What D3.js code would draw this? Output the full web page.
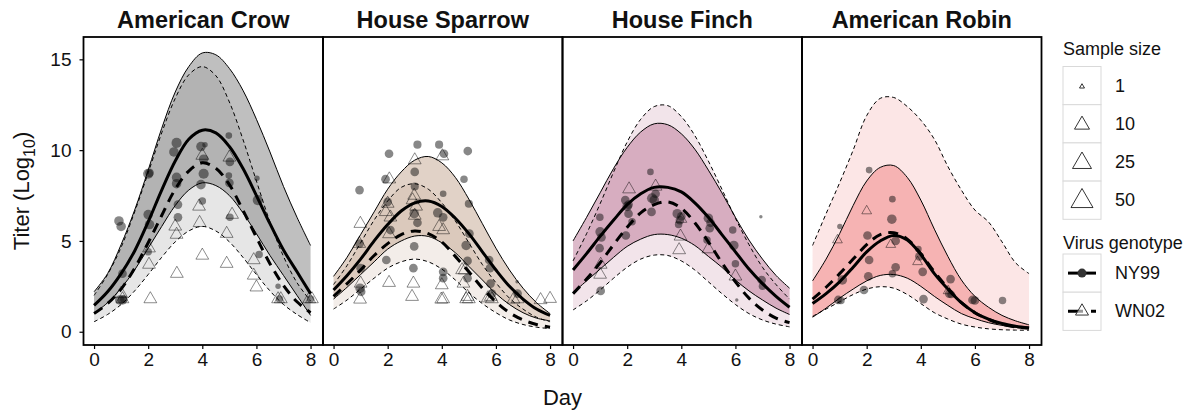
<!DOCTYPE html>
<html>
<head>
<meta charset="utf-8">
<script src="https://cdn.jsdelivr.net/npm/d3@7"></script>
<style>
  body { margin: 0; background: #fff; }
  svg { display: block; }
  text { font-family: "Liberation Sans", Arial, Helvetica, sans-serif; fill: #111; }
</style>
</head>
<body>
<svg id="chart" width="1192" height="412"></svg>
<script>
// ---- Grid of days at which the fitted curves are tabulated ----
const days = [0, 0.5, 1, 1.5, 2, 2.5, 3, 3.5, 4, 4.5, 5, 5.5, 6, 6.5, 7, 7.5, 8];

const species = ["American Crow", "House Sparrow", "House Finch", "American Robin"];
const speciesColors = ["#808080", "#c3a690", "#bc7696", "#f08080"];
const xTicks = [0, 2, 4, 6, 8];
const yTicks = [0, 5, 10, 15];
const sampleSizes = [1, 10, 25, 50];
const genotypes = ["NY99", "WN02"];

// ---- American Crow ----
const crowNY99Mean  = [1.45, 2.2, 3.2, 4.45, 6.05, 7.8, 9.4, 10.6, 11.1, 10.95, 10.2, 9.0, 7.5, 5.95, 4.5, 3.3, 2.1];
const crowNY99Lower = [1.0, 1.6, 2.4, 3.4, 4.6, 5.8, 6.95, 7.8, 8.2, 8.05, 7.5, 6.55, 5.4, 4.2, 3.1, 2.0, 0.9];
const crowNY99Upper = [2.2, 3.2, 4.8, 6.7, 8.9, 11.2, 13.2, 14.6, 15.35, 15.25, 14.5, 13.3, 11.7, 9.9, 8.0, 6.3, 4.75];
const crowWN02Mean  = [1.0, 1.55, 2.35, 3.5, 4.9, 6.4, 7.85, 8.85, 9.3, 9.0, 8.1, 6.7, 5.2, 3.75, 2.55, 1.65, 1.05];
const crowWN02Lower = [0.55, 0.95, 1.5, 2.25, 3.15, 4.1, 4.95, 5.55, 5.8, 5.55, 4.95, 4.1, 3.15, 2.25, 1.5, 0.95, 0.5];
const crowWN02Upper = [2.0, 3.15, 4.65, 6.6, 8.75, 10.95, 12.85, 14.15, 14.6, 14.1, 12.65, 10.6, 8.3, 6.05, 4.15, 2.7, 1.7];

// ---- House Sparrow ----
const sparrowNY99Mean  = [2.3, 3.1, 4.0, 5.0, 5.9, 6.65, 7.1, 7.2, 6.9, 6.25, 5.4, 4.4, 3.4, 2.5, 1.8, 1.25, 0.9];
const sparrowNY99Lower = [1.8, 2.45, 3.15, 3.85, 4.55, 5.0, 5.27, 5.25, 4.9, 4.35, 3.6, 2.85, 2.1, 1.5, 1.05, 0.75, 0.6];
const sparrowNY99Upper = [3.05, 4.1, 5.35, 6.6, 7.85, 8.8, 9.45, 9.65, 9.3, 8.5, 7.3, 5.95, 4.6, 3.4, 2.4, 1.6, 1.0];
const sparrowWN02Mean  = [1.95, 2.65, 3.4, 4.2, 4.85, 5.35, 5.55, 5.4, 4.95, 4.15, 3.3, 2.4, 1.65, 1.05, 0.65, 0.4, 0.25];
const sparrowWN02Lower = [1.25, 1.75, 2.35, 2.95, 3.5, 3.85, 4.0, 3.85, 3.45, 2.85, 2.15, 1.55, 1.05, 0.65, 0.4, 0.25, 0.17];
const sparrowWN02Upper = [2.6, 3.65, 4.9, 6.15, 7.2, 7.95, 8.15, 7.85, 7.1, 6.1, 4.9, 3.7, 2.7, 1.85, 1.25, 0.8, 0.55];

// ---- House Finch ----
const finchNY99Mean  = [3.4, 4.3, 5.25, 6.15, 7.0, 7.6, 7.95, 7.95, 7.7, 7.1, 6.3, 5.35, 4.4, 3.45, 2.65, 1.95, 1.35];
const finchNY99Lower = [2.15, 2.8, 3.45, 4.1, 4.7, 5.1, 5.35, 5.35, 5.15, 4.75, 4.15, 3.55, 2.85, 2.25, 1.75, 1.3, 0.95];
const finchNY99Upper = [5.0, 6.3, 7.65, 9.0, 10.15, 11.0, 11.45, 11.4, 10.9, 10.05, 8.9, 7.65, 6.3, 5.05, 4.0, 3.1, 2.4];
const finchWN02Mean  = [2.1, 2.9, 3.8, 4.8, 5.75, 6.55, 7.0, 7.15, 6.8, 6.0, 4.95, 3.8, 2.75, 1.85, 1.2, 0.75, 0.5];
const finchWN02Lower = [1.2, 1.7, 2.3, 2.95, 3.55, 4.0, 4.22, 4.2, 3.9, 3.4, 2.75, 2.1, 1.5, 1.0, 0.65, 0.42, 0.27];
const finchWN02Upper = [3.9, 5.4, 7.05, 8.8, 10.45, 11.7, 12.4, 12.45, 11.85, 10.8, 9.4, 7.85, 6.25, 4.8, 3.55, 2.6, 1.8];

// ---- American Robin ----
const robinNY99Mean  = [1.55, 2.1, 2.75, 3.55, 4.4, 5.0, 5.3, 5.05, 4.25, 3.2, 2.35, 1.6, 1.05, 0.7, 0.45, 0.3, 0.2];
const robinNY99Lower = [0.8, 1.3, 1.85, 2.35, 2.8, 3.1, 3.15, 2.95, 2.5, 1.95, 1.45, 1.0, 0.72, 0.5, 0.35, 0.24, 0.18];
const robinNY99Upper = [2.8, 4.0, 5.4, 6.95, 8.3, 9.05, 9.15, 8.5, 7.25, 5.65, 4.15, 2.85, 1.95, 1.35, 0.9, 0.6, 0.38];
const robinWN02Mean  = [1.8, 2.45, 3.2, 4.0, 4.8, 5.35, 5.45, 5.1, 4.3, 3.3, 2.4, 1.6, 1.05, 0.68, 0.42, 0.27, 0.2];
const robinWN02Lower = [0.85, 1.25, 1.65, 2.05, 2.35, 2.48, 2.4, 2.05, 1.55, 1.05, 0.7, 0.42, 0.26, 0.16, 0.11, 0.09, 0.08];
const robinWN02Upper = [4.75, 6.5, 8.2, 10.0, 11.9, 12.85, 12.9, 12.4, 11.65, 10.6, 9.1, 7.8, 6.7, 6.05, 4.95, 3.8, 3.2];

// ---- Observed titers: [day, titer, sample size] ----
const crowNY99Points = [
  [0.92, 6.1, 8], [1.0, 5.8, 8], [1.05, 3.2, 6], [0.95, 1.75, 8], [1.05, 1.75, 8], [1.1, 1.8, 4],
  [2.0, 8.7, 10], [2.05, 8.75, 6], [2.0, 6.45, 8], [2.05, 5.9, 8], [2.0, 4.4, 4],
  [3.05, 10.4, 10], [2.95, 9.9, 8], [3.05, 8.5, 8], [3.05, 8.15, 8], [3.1, 7.0, 6], [3.1, 6.3, 6],
  [3.95, 10.2, 8], [4.1, 10.3, 2], [4.05, 9.5, 8], [4.05, 8.7, 10], [3.95, 8.1, 8], [4.0, 7.2, 4],
  [4.98, 10.8, 3], [5.02, 9.35, 6], [4.98, 8.6, 3], [5.0, 8.2, 6], [5.02, 6.3, 4],
  [6.02, 8.45, 2], [6.05, 7.25, 10], [6.1, 4.25, 4], [6.8, 2.5, 2], [6.85, 1.8, 4], [8.0, 1.8, 4]
];
const crowWN02Points = [
  [1.0, 2.1, 6], [1.05, 1.8, 6], [2.03, 4.6, 6], [2.03, 3.7, 6], [2.08, 1.8, 6],
  [3.0, 5.8, 6], [3.05, 5.35, 6], [3.06, 3.2, 6], [4.0, 9.7, 6], [3.88, 6.9, 6], [3.9, 6.0, 6], [4.0, 4.2, 6],
  [5.0, 9.6, 6], [5.1, 6.45, 6], [4.9, 5.4, 6], [4.9, 3.75, 6], [5.9, 3.95, 6], [5.9, 3.1, 6], [6.0, 2.45, 6],
  [6.8, 1.8, 6], [6.9, 1.8, 6], [7.95, 1.8, 6], [8.05, 1.8, 6]
];
const sparrowNY99Points = [
  [0.96, 7.8, 6], [0.96, 4.85, 6], [1.0, 3.5, 6], [0.98, 2.4, 8], [1.02, 2.2, 6],
  [2.05, 9.8, 6], [1.92, 8.4, 6], [2.0, 7.15, 6], [2.1, 5.6, 6], [1.95, 3.95, 6],
  [3.1, 10.3, 5], [3.0, 8.8, 6], [3.0, 8.0, 5], [2.98, 6.5, 8], [3.1, 6.0, 6], [2.98, 4.7, 6], [2.95, 3.5, 6],
  [3.9, 10.3, 5], [4.08, 9.8, 6], [4.05, 7.6, 3], [3.85, 6.55, 8], [4.05, 6.3, 6], [4.05, 3.3, 6], [4.05, 2.95, 6],
  [4.96, 9.95, 6], [4.82, 8.4, 4], [5.0, 7.05, 5], [5.02, 5.4, 6], [4.9, 4.75, 8], [4.95, 3.9, 6], [4.95, 2.95, 6],
  [5.75, 3.95, 6], [5.78, 3.5, 6], [5.8, 2.65, 6], [5.85, 2.1, 6],
  [6.78, 2.75, 1], [6.8, 2.1, 6]
];
const sparrowWN02Points = [
  [0.99, 5.95, 6], [0.95, 4.85, 6], [1.0, 2.66, 6], [0.98, 1.78, 6],
  [2.06, 8.4, 6], [1.93, 6.6, 6], [2.0, 7.06, 6], [2.1, 6.3, 6], [2.05, 5.38, 6], [2.05, 2.7, 6],
  [3.0, 9.45, 6], [2.92, 7.25, 6], [3.05, 6.9, 6], [2.98, 7.5, 6], [3.0, 6.4, 6], [2.95, 2.66, 6], [2.9, 1.93, 6],
  [4.02, 9.67, 6], [3.9, 5.78, 6], [4.05, 5.6, 6], [4.0, 2.57, 6], [3.98, 1.78, 6], [4.05, 1.8, 6],
  [4.85, 3.39, 6], [4.75, 3.4, 6], [4.8, 2.66, 6], [4.9, 1.8, 6], [5.0, 1.8, 6], [4.95, 1.93, 6],
  [5.7, 1.85, 6], [5.85, 1.8, 6], [5.81, 1.93, 6],
  [6.65, 1.78, 6], [6.8, 1.8, 6], [7.65, 1.75, 6], [8.0, 1.82, 6]
];
const finchNY99Points = [
  [0.99, 6.3, 4], [1.0, 5.5, 8], [1.05, 5.2, 6], [0.98, 4.6, 6], [1.02, 2.25, 6],
  [1.93, 7.25, 6], [2.0, 6.9, 8], [2.05, 7.0, 6], [2.18, 6.05, 4], [1.95, 5.3, 6], [2.05, 6.5, 6],
  [2.86, 8.8, 3], [2.92, 7.35, 10], [3.0, 7.25, 8], [2.9, 6.6, 6], [3.05, 7.6, 6],
  [3.85, 6.5, 8], [3.95, 6.15, 6], [4.0, 6.35, 6], [3.9, 5.9, 4],
  [5.0, 6.25, 8], [5.05, 5.7, 6], [4.95, 5.05, 4], [5.08, 6.0, 6],
  [5.9, 5.6, 4], [5.94, 4.75, 8], [6.0, 3.75, 4], [6.05, 1.75, 1],
  [6.97, 2.85, 6], [7.0, 2.5, 4], [6.94, 6.33, 1]
];
const finchWN02Points = [
  [2.07, 7.85, 6], [3.05, 8.0, 6], [3.97, 5.25, 6], [3.92, 4.5, 6], [5.0, 4.55, 6],
  [6.0, 3.05, 6], [1.02, 3.7, 6], [1.0, 3.15, 6], [4.0, 6.2, 4]
];
const robinNY99Points = [
  [1.01, 5.8, 2], [1.1, 2.85, 8], [0.95, 1.75, 6], [1.05, 1.72, 4],
  [2.09, 8.9, 3], [2.03, 5.3, 6], [2.09, 3.95, 6], [2.06, 3.05, 6], [1.9, 2.3, 6],
  [2.95, 7.3, 3], [2.93, 6.2, 8], [3.07, 5.0, 6], [3.07, 3.55, 6], [2.95, 3.2, 4],
  [3.91, 4.55, 3], [3.95, 4.15, 6], [4.07, 3.3, 6], [4.1, 1.8, 6],
  [5.1, 2.9, 6], [5.05, 2.1, 6], [5.12, 2.05, 4],
  [5.91, 1.75, 6], [6.0, 1.72, 6], [7.02, 1.72, 4]
];
const robinWN02Points = [
  [2.0, 6.65, 3], [0.92, 5.05, 3], [2.89, 4.8, 3], [3.88, 3.85, 3], [5.01, 2.25, 3]
];

// ---- Assemble panels ----
const panels = [
  { ny: [crowNY99Mean, crowNY99Lower, crowNY99Upper], wn: [crowWN02Mean, crowWN02Lower, crowWN02Upper], nyPts: crowNY99Points, wnPts: crowWN02Points },
  { ny: [sparrowNY99Mean, sparrowNY99Lower, sparrowNY99Upper], wn: [sparrowWN02Mean, sparrowWN02Lower, sparrowWN02Upper], nyPts: sparrowNY99Points, wnPts: sparrowWN02Points },
  { ny: [finchNY99Mean, finchNY99Lower, finchNY99Upper], wn: [finchWN02Mean, finchWN02Lower, finchWN02Upper], nyPts: finchNY99Points, wnPts: finchWN02Points },
  { ny: [robinNY99Mean, robinNY99Lower, robinNY99Upper], wn: [robinWN02Mean, robinWN02Lower, robinWN02Upper], nyPts: robinNY99Points, wnPts: robinWN02Points }
].map((p, i) => ({ ...p, name: species[i], color: speciesColors[i] }));

// ---- Layout ----
const svg = d3.select("#chart");
const panelTop = 37, panelBottom = 345;
const firstLeft = 83.5, panelW = 239.5;

const y = d3.scaleLinear().domain([-0.73, 16.23]).range([panelBottom, panelTop]);
// triangle side (px) for a given sample size; circles use a fraction of it
const sideScale = d3.scaleLog().domain([1, 50]).range([5, 22]);
const triArea = s => Math.sqrt(3) / 4 * s * s;

const tickFont = 19;

panels.forEach((p, i) => {
  const left = firstLeft + i * panelW;
  const x = d3.scaleLinear().domain([-0.39, 8.46]).range([left, left + panelW]);

  const clipId = "panel-clip-" + i;
  svg.append("clipPath").attr("id", clipId)
    .append("rect").attr("x", left).attr("y", panelTop).attr("width", panelW).attr("height", panelBottom - panelTop);

  const g = svg.append("g");
  const inner = g.append("g").attr("clip-path", `url(#${clipId})`);

  const band = (lo, hi) => d3.area()
    .x((d, k) => x(days[k])).y0((d, k) => y(lo[k])).y1((d, k) => y(hi[k]))
    .curve(d3.curveCatmullRom)(days);
  const line = arr => d3.line()
    .x((d, k) => x(days[k])).y(d => y(d))
    .curve(d3.curveCatmullRom)(arr);

  // uncertainty ribbons
  inner.append("path").attr("d", band(p.wn[1], p.wn[2])).attr("fill", p.color).attr("fill-opacity", 0.2);
  inner.append("path").attr("d", band(p.ny[1], p.ny[2])).attr("fill", p.color).attr("fill-opacity", 0.5);

  // observations
  inner.append("g").selectAll("circle").data(p.nyPts).join("circle")
    .attr("cx", d => x(d[0])).attr("cy", d => y(d[1]))
    .attr("r", d => sideScale(d[2]) * 0.34)
    .attr("fill", "#111").attr("fill-opacity", 0.5);
  inner.append("g").selectAll("path").data(p.wnPts).join("path")
    .attr("transform", d => `translate(${x(d[0])},${y(d[1])})`)
    .attr("d", d => d3.symbol(d3.symbolTriangle, triArea(sideScale(d[2])))())
    .attr("fill", "none").attr("stroke", "#000").attr("stroke-opacity", 0.45).attr("stroke-width", 1);

  // ribbon edges
  [p.wn[1], p.wn[2]].forEach(arr => inner.append("path").attr("d", line(arr))
    .attr("fill", "none").attr("stroke", "#000").attr("stroke-width", 1).attr("stroke-dasharray", "4,3"));
  [p.ny[1], p.ny[2]].forEach(arr => inner.append("path").attr("d", line(arr))
    .attr("fill", "none").attr("stroke", "#000").attr("stroke-width", 1));

  // fitted means
  inner.append("path").attr("d", line(p.ny[0]))
    .attr("fill", "none").attr("stroke", "#000").attr("stroke-width", 3);
  inner.append("path").attr("d", line(p.wn[0]))
    .attr("fill", "none").attr("stroke", "#000").attr("stroke-width", 3).attr("stroke-dasharray", "10,7");

  // panel frame
  g.append("rect").attr("x", left).attr("y", panelTop).attr("width", panelW).attr("height", panelBottom - panelTop)
    .attr("fill", "none").attr("stroke", "#000").attr("stroke-width", 1.8);

  // strip title
  g.append("text").attr("x", left + panelW / 2).attr("y", 27.5)
    .attr("text-anchor", "middle").attr("font-size", 23.5).attr("font-weight", "bold").text(p.name);

  // x axis
  const xa = g.append("g").attr("transform", `translate(0,${panelBottom})`)
    .call(d3.axisBottom(x).tickValues(xTicks).tickSize(4).tickPadding(4));
  xa.select(".domain").remove();
  xa.selectAll("line").attr("stroke", "#000").attr("stroke-width", 1.2);
  xa.selectAll("text").attr("font-size", tickFont).attr("font-family", "Liberation Sans, Arial, sans-serif").attr("fill", "#111");

  if (i === 0) {
    const ya = g.append("g").attr("transform", `translate(${left},0)`)
      .call(d3.axisLeft(y).tickValues(yTicks).tickSize(4).tickPadding(8));
    ya.select(".domain").remove();
    ya.selectAll("line").attr("stroke", "#000").attr("stroke-width", 1.2);
    ya.selectAll("text").attr("font-size", tickFont).attr("font-family", "Liberation Sans, Arial, sans-serif").attr("fill", "#111");
  }
});

// axis titles
svg.append("text").attr("x", firstLeft + 2 * panelW).attr("y", 405)
  .attr("text-anchor", "middle").attr("font-size", 22).text("Day");
const yt = svg.append("text").attr("transform", `translate(29,${(panelTop + panelBottom) / 2}) rotate(-90)`)
  .attr("text-anchor", "middle").attr("font-size", 22);
yt.append("tspan").text("Titer (Log");
yt.append("tspan").attr("font-size", 16).attr("dy", 6).text("10");
yt.append("tspan").attr("dy", -6).text(")");

// ---- Legends ----
const lgX = 1063, keyW = 38, keyH = 38.2;
const legend = svg.append("g");
legend.append("text").attr("x", lgX).attr("y", 55).attr("font-size", 18).text("Sample size");
sampleSizes.forEach((n, k) => {
  const ky = 66.5 + k * keyH;
  legend.append("rect").attr("x", lgX).attr("y", ky).attr("width", keyW).attr("height", keyH)
    .attr("fill", "#fff").attr("stroke", "#d9d9d9").attr("stroke-width", 1);
  legend.append("path").attr("transform", `translate(${lgX + keyW / 2},${ky + keyH / 2 + 1})`)
    .attr("d", d3.symbol(d3.symbolTriangle, triArea(sideScale(n)))())
    .attr("fill", "none").attr("stroke", "#000").attr("stroke-width", 0.8);
  legend.append("text").attr("x", lgX + 52).attr("y", ky + keyH / 2 + 6).attr("font-size", 18).text(n);
});

legend.append("text").attr("x", lgX).attr("y", 249).attr("font-size", 18).text("Virus genotype");
genotypes.forEach((gname, k) => {
  const ky = 254 + k * keyH;
  const cy = ky + keyH / 2;
  legend.append("rect").attr("x", lgX).attr("y", ky).attr("width", keyW).attr("height", keyH)
    .attr("fill", "#fff").attr("stroke", "#d9d9d9").attr("stroke-width", 1);
  if (gname === "NY99") {
    legend.append("line").attr("x1", lgX + 5).attr("x2", lgX + keyW - 5).attr("y1", cy).attr("y2", cy)
      .attr("stroke", "#000").attr("stroke-width", 3);
    legend.append("circle").attr("cx", lgX + keyW / 2).attr("cy", cy).attr("r", 4.5).attr("fill", "#333");
  } else {
    legend.append("line").attr("x1", lgX + 5).attr("x2", lgX + keyW - 5).attr("y1", cy).attr("y2", cy)
      .attr("stroke", "#000").attr("stroke-width", 3).attr("stroke-dasharray", "15,8");
    legend.append("path").attr("transform", `translate(${lgX + keyW / 2},${cy})`)
      .attr("d", d3.symbol(d3.symbolTriangle, triArea(13))())
      .attr("fill", "#fff").attr("fill-opacity", 0.6).attr("stroke", "#333").attr("stroke-width", 1);
  }
  legend.append("text").attr("x", lgX + 52).attr("y", cy + 6).attr("font-size", 18).text(gname);
});
</script>
</body>
</html>
